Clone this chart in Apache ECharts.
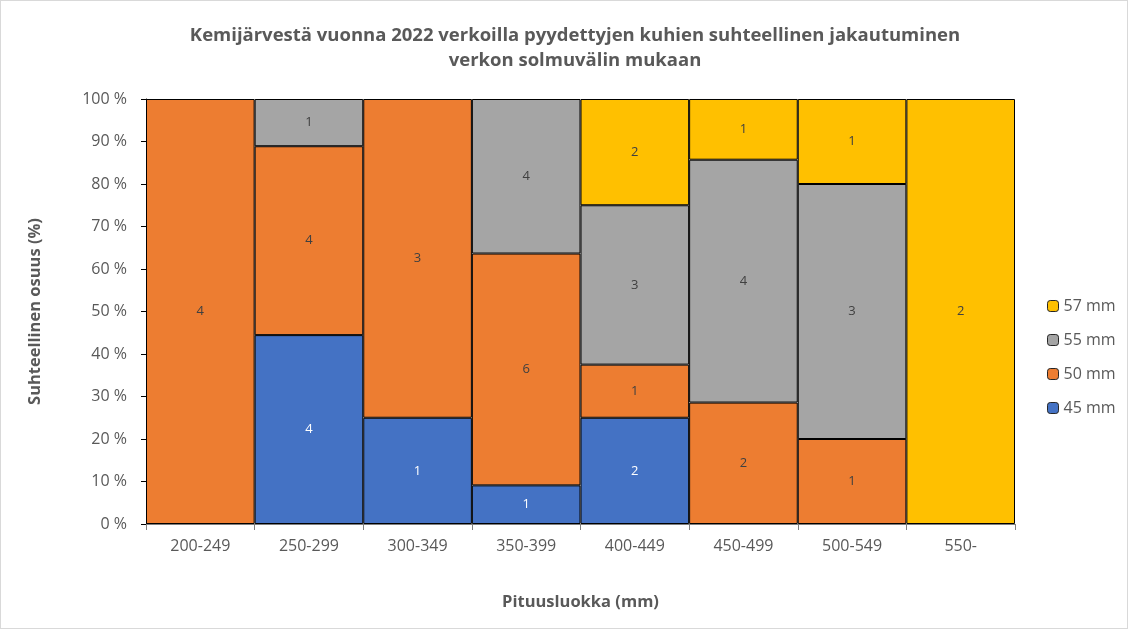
<!DOCTYPE html>
<html>
<head>
<meta charset="utf-8">
<script src="https://cdn.jsdelivr.net/npm/echarts@6/dist/echarts.min.js"></script>
<style>
  html, body { margin: 0; padding: 0; background: #fff; }
  #chart { width: 1128px; height: 629px; box-sizing: border-box; border: 1px solid #d9d9d9; }
</style>
</head>
<body>
<div id="chart"></div>
<script>
// Length classes (mm)
const categories = ['200-249', '250-299', '300-349', '350-399', '400-449', '450-499', '500-549', '550-'];
// Catch counts per mesh size in each length class
const mesh45 = [null, 4, 1, 1, 2, null, null, null];
const mesh50 = [4, 4, 3, 6, 1, 2, 1, null];
const mesh55 = [null, 1, null, 4, 3, 4, 3, null];
const mesh57 = [null, null, null, null, 2, 1, 1, 2];
const yTicks = [0, 10, 20, 30, 40, 50, 60, 70, 80, 90, 100];

const seriesDefs = [
  { name: '45 mm', counts: mesh45, color: '#4472C4', labelColor: '#ffffff' },
  { name: '50 mm', counts: mesh50, color: '#ED7D31', labelColor: '#404040' },
  { name: '55 mm', counts: mesh55, color: '#A5A5A5', labelColor: '#404040' },
  { name: '57 mm', counts: mesh57, color: '#FFC000', labelColor: '#404040' }
];

const totals = categories.map((_, i) =>
  seriesDefs.reduce((s, d) => s + (d.counts[i] || 0), 0));

const font = "'Open Sans', 'Liberation Sans', sans-serif";

const chart = echarts.init(document.getElementById('chart'), null, { renderer: 'canvas' });
chart.setOption({
  animation: false,
  title: {
    text: 'Kemijärvestä vuonna 2022 verkoilla pyydettyjen kuhien suhteellinen jakautuminen\nverkon solmuvälin mukaan',
    left: 569, top: 17, textAlign: 'center',
    textStyle: { fontFamily: font, fontSize: 18.5, fontWeight: 'bold', color: '#595959', lineHeight: 25 }
  },
  legend: {
    orient: 'vertical',
    left: 1041, top: 289,
    itemWidth: 11, itemHeight: 11, itemGap: 12,
    data: ['57 mm', '55 mm', '50 mm', '45 mm'],
    itemStyle: { borderColor: '#262626', borderWidth: 1 },
    textStyle: { fontFamily: font, fontSize: 16, color: '#595959', lineHeight: 22 }
  },
  grid: { left: 145, right: 112, top: 98, bottom: 104, containLabel: false },
  xAxis: {
    type: 'category',
    data: categories,
    name: 'Pituusluokka (mm)',
    nameLocation: 'middle',
    nameGap: 70,
    nameTextStyle: { fontFamily: font, fontSize: 16.5, fontWeight: 'bold', color: '#595959' },
    axisLine: { lineStyle: { color: '#7f7f7f', width: 1 } },
    axisTick: { show: true, length: 6, lineStyle: { color: '#7f7f7f' } },
    axisLabel: { fontFamily: font, fontSize: 16, color: '#595959', margin: 14 }
  },
  yAxis: {
    type: 'value',
    min: 0, max: 100, interval: 10,
    name: 'Suhteellinen osuus (%)',
    nameLocation: 'middle',
    nameGap: 102,
    nameTextStyle: { fontFamily: font, fontSize: 16.5, fontWeight: 'bold', color: '#595959' },
    axisLine: { show: true, lineStyle: { color: '#000000', width: 1 } },
    axisTick: { show: true, length: 5, lineStyle: { color: '#000000' } },
    splitLine: { show: false },
    axisLabel: {
      fontFamily: font, fontSize: 16, color: '#595959', margin: 19,
      formatter: v => (yTicks.includes(v) ? v + ' %' : '')
    }
  },
  series: seriesDefs.map(d => ({
    name: d.name,
    type: 'bar',
    stack: 'share',
    barCategoryGap: '0%',
    itemStyle: { color: d.color, borderColor: '#000000', borderWidth: 1 },
    label: {
      show: true,
      position: 'inside',
      fontFamily: font,
      fontSize: 13,
      color: d.labelColor,
      formatter: p => (d.counts[p.dataIndex] == null ? '' : String(d.counts[p.dataIndex]))
    },
    data: d.counts.map((c, i) => (c == null ? null : c / totals[i] * 100))
  }))
});
</script>
</body>
</html>
